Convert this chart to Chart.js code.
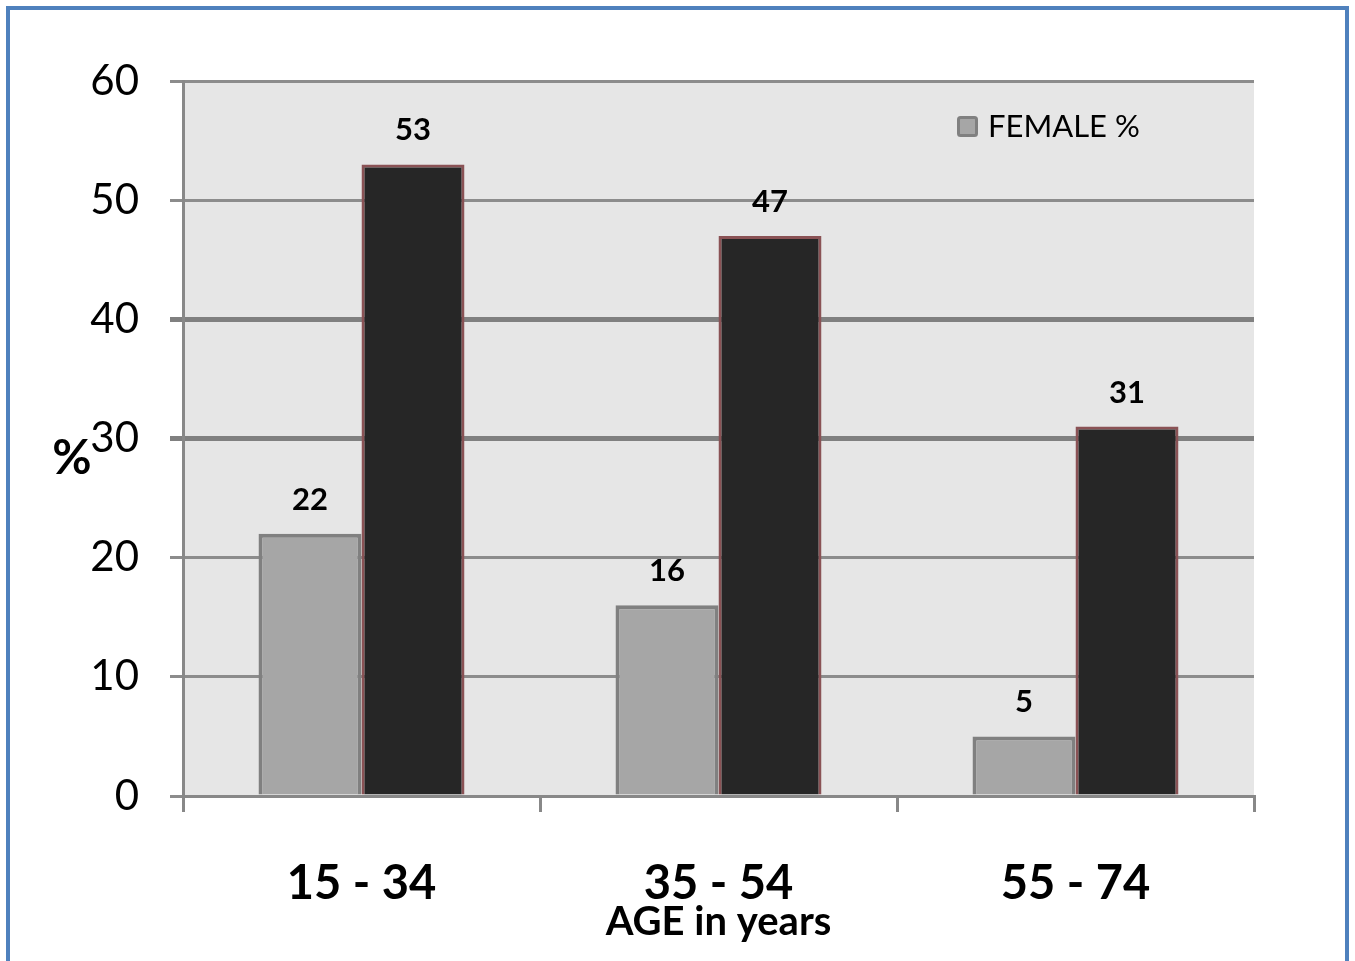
<!DOCTYPE html>
<html>
<head>
    <title>AGE in years</title>
    <script src="https://cdn.jsdelivr.net/npm/chart.js"></script>
    <style>
        body { margin: 0; background: #fff; }
        #wrap { position: relative; width: 1355px; height: 961px; overflow: hidden; }
        #frame { position: absolute; left: 6px; top: 6px; width: 1343px; height: 1000px;
                 box-sizing: border-box; border: 4px solid #4f81bd; pointer-events: none; }
        canvas { position: absolute; left: 0; top: 0; }
    </style>
</head>
<body>
    <div id="wrap">
        <canvas id="ageChart" width="1355" height="961"></canvas>
        <div id="frame"></div>
    </div>

    <script>
        const categories = ['15 - 34', '35 - 54', '55 - 74'];
        const femaleValues = [22, 16, 5];
        const maleValues = [53, 47, 31];
        const yTicks = [0, 10, 20, 30, 40, 50, 60];
        const thickLines = [30, 40];

        const FONT = 'Lato';

        // fond gris de la zone du graphique
        const plotBackground = {
            id: 'plotBackground',
            beforeDraw(chart) {
                const { ctx, chartArea } = chart;
                ctx.save();
                ctx.fillStyle = '#e6e6e6';
                ctx.fillRect(chartArea.left, chartArea.top, chartArea.right - chartArea.left, chartArea.bottom - chartArea.top);
                ctx.restore();
            }
        };

        // valeurs au-dessus des barres
        const valueLabels = {
            id: 'valueLabels',
            afterDatasetsDraw(chart) {
                const ctx = chart.ctx;
                ctx.save();
                ctx.font = 'bold 31px ' + FONT;
                ctx.fillStyle = '#000';
                ctx.textAlign = 'center';
                ctx.textBaseline = 'middle';
                chart.data.datasets.forEach((ds, i) => {
                    chart.getDatasetMeta(i).data.forEach((bar, j) => {
                        ctx.fillText(ds.data[j], bar.x, bar.y - 34);
                    });
                });
                ctx.restore();
            }
        };

        // légende (seulement FEMALE %) et titre "%" de l'axe y
        const extras = {
            id: 'extras',
            afterDraw(chart) {
                const { ctx, chartArea } = chart;
                const ds = chart.data.datasets[0];
                const x = chartArea.right - 297;
                const y = chartArea.top + 35;
                ctx.save();
                ctx.fillStyle = ds.backgroundColor;
                ctx.strokeStyle = ds.borderColor;
                ctx.lineWidth = 3;
                ctx.beginPath();
                ctx.roundRect(x + 1.5, y + 1.5, 18, 18, 2);
                ctx.fill();
                ctx.stroke();
                ctx.fillStyle = '#000';
                ctx.font = '31px ' + FONT;
                ctx.textAlign = 'left';
                ctx.textBaseline = 'middle';
                ctx.fillText(ds.label, x + 31, y + 11);

                ctx.font = 'bold 48px ' + FONT;
                ctx.textAlign = 'center';
                ctx.fillText('%', chartArea.left - 111, chart.scales.y.getPixelForValue(28.3));
                ctx.restore();
            }
        };

        const ctx = document.getElementById('ageChart').getContext('2d');
        const chart = new Chart(ctx, {
            type: 'bar',
            data: {
                labels: categories,
                datasets: [{
                    label: 'FEMALE %',
                    data: femaleValues,
                    backgroundColor: '#a6a6a6',
                    borderColor: '#808080',
                    borderWidth: 4
                }, {
                    label: 'MALE %',
                    data: maleValues,
                    backgroundColor: '#262626',
                    borderColor: '#8a5255',
                    borderWidth: 3
                }]
            },
            options: {
                responsive: false,
                animation: false,
                devicePixelRatio: 1,
                layout: { padding: { top: 81, left: 0, right: 101, bottom: 0 } },
                datasets: {
                    bar: { categoryPercentage: 0.577, barPercentage: 1 }
                },
                plugins: {
                    legend: { display: false },
                    tooltip: { enabled: false }
                },
                scales: {
                    x: {
                        afterFit: scale => { scale.height = 165; },
                        grid: {
                            offset: true,
                            drawOnChartArea: false,
                            tickLength: 16,
                            color: '#888888',
                            lineWidth: 3
                        },
                        border: { display: true, color: '#888888', width: 3 },
                        ticks: {
                            color: '#000',
                            padding: 44,
                            font: { family: FONT, size: 47, weight: 'bold' }
                        },
                        title: {
                            display: true,
                            text: 'AGE in years',
                            color: '#000',
                            padding: { top: 0, bottom: 15 },
                            font: { family: FONT, size: 40, weight: 'bold' }
                        }
                    },
                    y: {
                        min: 0,
                        max: 60,
                        afterFit: scale => { scale.width = 183; },
                        afterBuildTicks: scale => { scale.ticks = yTicks.map(v => ({ value: v })); },
                        grid: {
                            tickLength: 13,
                            color: c => thickLines.includes(c.tick.value) ? '#808080' : '#8c8c8c',
                            lineWidth: c => thickLines.includes(c.tick.value) ? 5 : 3
                        },
                        border: { display: true, color: '#888888', width: 3 },
                        ticks: {
                            color: '#000',
                            padding: 31,
                            font: { family: FONT, size: 42 }
                        }
                    }
                }
            },
            plugins: [plotBackground, valueLabels, extras]
        });
    </script>
</body>
</html>
